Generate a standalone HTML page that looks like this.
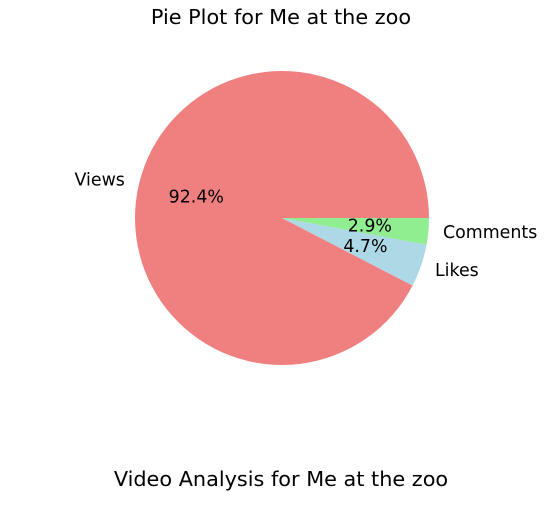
<!DOCTYPE html>
<html><head><meta charset="utf-8"><style>
html,body{margin:0;padding:0;background:#fff;}
svg{display:block;font-family:"DejaVu Sans","Liberation Sans",sans-serif;}
</style></head><body>
<svg id="chart" width="559" height="509" viewBox="0 0 559 509">
<text x="281" y="24" text-anchor="middle" font-size="20.8">Pie Plot for Me at the zoo</text>
<g id="slices"></g>
<text x="281" y="486" text-anchor="middle" font-size="20.8">Video Analysis for Me at the zoo</text>
</svg>
<script>
const categories = ["Views", "Likes", "Comments"];
const values = [92.4, 4.7, 2.9];
const colors = ["#f08080", "#add8e6", "#90ee90"];

const cx = 282, cy = 218, r = 147;
const g = document.getElementById('slices');
const ns = 'http://www.w3.org/2000/svg';
const total = values.reduce((a, b) => a + b, 0);
function pt(deg, rad) { const a = deg * Math.PI / 180; return [cx + rad * Math.cos(a), cy - rad * Math.sin(a)]; }
let start = 0;
values.forEach((v, i) => {
  const sweep = v / total * 360, end = start + sweep;
  const [x1, y1] = pt(start, r), [x2, y2] = pt(end, r);
  const p = document.createElementNS(ns, 'path');
  p.setAttribute('d', `M${cx},${cy} L${x1},${y1} A${r},${r} 0 ${sweep > 180 ? 1 : 0} 0 ${x2},${y2} Z`);
  p.setAttribute('fill', colors[i]);
  
  
  g.appendChild(p);
  const mid = start + sweep / 2;
  const [lx, ly] = pt(mid, r * 1.1);
  const t = document.createElementNS(ns, 'text');
  t.textContent = categories[i];
  t.setAttribute('x', lx); t.setAttribute('y', ly + 5.5);
  t.setAttribute('font-size', '17.4');
  t.setAttribute('text-anchor', Math.cos(mid * Math.PI / 180) < 0 ? 'end' : 'start');
  
  
  g.appendChild(t);
  const [px, py] = pt(mid, r * 0.6);
  const pc = document.createElementNS(ns, 'text');
  pc.textContent = (v / total * 100).toFixed(1) + '%';
  pc.setAttribute('x', px); pc.setAttribute('y', py + 5.5);
  pc.setAttribute('font-size', '17.4');
  pc.setAttribute('text-anchor', 'middle');
  
  
  g.appendChild(pc);
  start = end;
});
</script>
</body></html>
